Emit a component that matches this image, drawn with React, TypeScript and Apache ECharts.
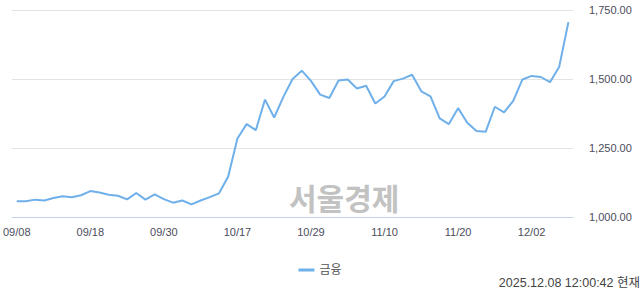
import React, { useEffect, useRef } from "react";
import * as echarts from "echarts";

const dates = [
  "09/08", "09/09", "09/10", "09/11", "09/12", "09/15", "09/16", "09/17", "09/18", "09/19",
  "09/22", "09/23", "09/24", "09/25", "09/26", "09/29", "09/30", "10/01", "10/02", "10/10",
  "10/13", "10/14", "10/15", "10/16", "10/17", "10/20", "10/21", "10/22", "10/23", "10/24",
  "10/27", "10/28", "10/29", "10/30", "10/31", "11/03", "11/04", "11/05", "11/06", "11/07",
  "11/10", "11/11", "11/12", "11/13", "11/14", "11/17", "11/18", "11/19", "11/20", "11/21",
  "11/24", "11/25", "11/26", "11/27", "11/28", "12/01", "12/02", "12/03", "12/04", "12/05",
  "12/08",
];

const finance = [
  1057, 1057, 1063, 1060, 1069, 1075, 1072, 1079, 1094, 1089,
  1081, 1077, 1064, 1087, 1063, 1082, 1065, 1052, 1060, 1046,
  1060, 1072, 1086, 1147, 1285, 1337, 1315, 1426, 1361, 1436,
  1501, 1531, 1494, 1444, 1432, 1495, 1499, 1466, 1476, 1412,
  1437, 1493, 1502, 1516, 1456, 1438, 1358, 1337, 1395, 1342,
  1312, 1309, 1400, 1380, 1421, 1499, 1512, 1508, 1489, 1545,
  1707,
];

const yTicks = { min: 1000, max: 1750, interval: 250 };
const seriesName = "금융";
const watermark = "서울경제";
const timestamp = "2025.12.08 12:00:42 현재";

const FONT = "'Liberation Sans', 'Noto Sans CJK KR', sans-serif";

export default function App() {
  const ref = useRef<HTMLDivElement>(null);
  useEffect(() => {
    document.body.style.margin = "0";
    if (!ref.current) return;
    const chart = echarts.init(ref.current, undefined, { renderer: "svg" });
    chart.setOption({
      animation: false,
      textStyle: { fontFamily: FONT },
      grid: { left: 10.5, right: 67, top: 10.3, bottom: 77 },
      xAxis: {
        type: "category",
        data: dates,
        boundaryGap: true,
        axisLine: { lineStyle: { color: "#c5d3ea", width: 1 } },
        axisTick: {
          alignWithLabel: true,
          interval: 7,
          length: 8,
          lineStyle: { color: "#c5d3ea" },
        },
        axisLabel: {
          interval: 7,
          color: "#4c4c5c",
          fontSize: 11,
          fontFamily: FONT,
          margin: 9,
        },
        splitLine: { show: false },
      },
      yAxis: {
        type: "value",
        position: "right",
        min: yTicks.min,
        max: yTicks.max,
        interval: yTicks.interval,
        axisLine: { show: false },
        axisTick: { show: false },
        axisLabel: {
          color: "#4c4c5c",
          fontSize: 11,
          fontFamily: FONT,
          margin: 16,
          formatter: (v: number) =>
            v.toLocaleString("en-US", { minimumFractionDigits: 2, maximumFractionDigits: 2 }),
        },
        splitLine: { lineStyle: { color: "#e3e3e3", width: 1 } },
      },
      legend: {
        data: [{ name: seriesName, icon: "rect" }],
        left: "center",
        top: 259,
        itemWidth: 16,
        itemHeight: 3,
        itemGap: 6,
        textStyle: { color: "#555", fontSize: 12, fontFamily: FONT },
      },
      graphic: [
        {
          type: "text",
          left: 289,
          top: 182,
          z: 0,
          style: {
            text: watermark,
            fill: "#c2c2c2",
            font: "bold 30px 'Noto Sans CJK KR', sans-serif",
          },
        },
        {
          type: "text",
          right: 0,
          top: 277,
          style: {
            text: timestamp,
            fill: "#444",
            font: "12.5px 'Liberation Sans', 'Noto Sans CJK KR', sans-serif",
          },
        },
      ],
      series: [
        {
          name: seriesName,
          type: "line",
          data: finance,
          symbol: "none",
          z: 5,
          lineStyle: { color: "#6fb0ea", width: 2 },
          itemStyle: { color: "#6fb0ea" },
        },
      ],
    });
    return () => chart.dispose();
  }, []);
  return (
    <div
      ref={ref}
      style={{ position: "absolute", left: 0, top: 0, width: 640, height: 294 }}
    />
  );
}
